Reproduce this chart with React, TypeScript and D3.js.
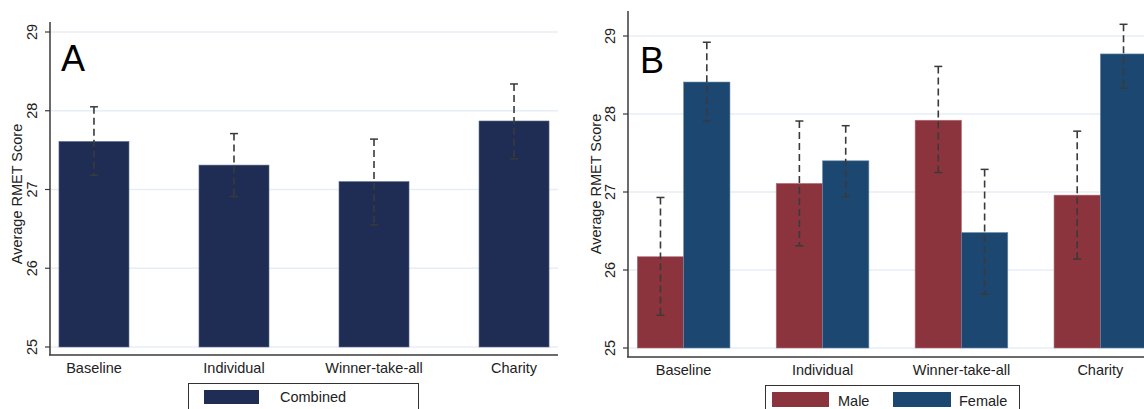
import React from "react";
import * as d3 from "d3";

const categories = ["Baseline", "Individual", "Winner-take-all", "Charity"];
const ticks = [25, 26, 27, 28, 29];

// Panel A: combined
const combinedMean = [27.61, 27.31, 27.1, 27.87];
const combinedLow = [27.18, 26.91, 26.55, 27.39];
const combinedHigh = [28.05, 27.71, 27.64, 28.34];

// Panel B: by gender
const seriesNames = ["Male", "Female"];
const maleMean = [26.17, 27.11, 27.92, 26.96];
const maleLow = [25.42, 26.31, 27.25, 26.14];
const maleHigh = [26.93, 27.91, 28.61, 27.78];
const femaleMean = [28.41, 27.4, 26.48, 28.77];
const femaleLow = [27.91, 26.94, 25.69, 28.33];
const femaleHigh = [28.92, 27.85, 27.29, 29.15];

const COL_COMB = "#1f2d55";
const COL_MALE = "#8c343e";
const COL_FEMALE = "#1c4770";
const GRID = "#e6eef4";
const AXIS = "#3a3a3a";
const ERR = "#3a3a3a";
const FONT = "'Liberation Sans', Arial, sans-serif";
const FS = 14.5;

function ErrorBar({ x, y1, y2 }: { x: number; y1: number; y2: number }) {
  return (
    <g>
      <line x1={x} x2={x} y1={y1} y2={y2} stroke={ERR} strokeWidth={1.6} strokeDasharray="7,4" />
      <line x1={x - 4} x2={x + 4} y1={y1} y2={y1} stroke={ERR} strokeWidth={1.5} />
      <line x1={x - 4} x2={x + 4} y1={y2} y2={y2} stroke={ERR} strokeWidth={1.5} />
    </g>
  );
}

function YAxis({ x, y, top, bottom, labelX, titleX, titleY }: any) {
  return (
    <g>
      <line x1={x} x2={x} y1={top} y2={bottom} stroke={AXIS} strokeWidth={1.5} />
      {ticks.map((t) => (
        <g key={t}>
          <line x1={x - 5} x2={x} y1={y(t)} y2={y(t)} stroke={AXIS} strokeWidth={1.2} />
          <text
            transform={`translate(${labelX},${y(t)}) rotate(-90)`}
            textAnchor="middle"
            dominantBaseline="central"
            fontSize={FS}
            fontFamily={FONT}
            fill="#222"
          >
            {t}
          </text>
        </g>
      ))}
      <text
        transform={`translate(${titleX},${titleY}) rotate(-90)`}
        textAnchor="middle"
        dominantBaseline="central"
        fontSize={FS}
        fontFamily={FONT}
        fill="#222"
      >
        Average RMET Score
      </text>
    </g>
  );
}

export default function App() {
  // Panel A scales
  const xA = d3.scaleBand<string>().domain(categories).range([50, 558]).paddingInner(0.5).paddingOuter(0.064);
  const yA = d3.scaleLinear().domain([25, 29]).range([347, 32]);

  // Panel B scales
  const xB = d3.scaleBand<string>().domain(categories).range([628, 1156]).paddingInner(0.333).paddingOuter(0.067);
  const xBInner = d3.scaleBand<string>().domain(seriesNames).range([0, xB.bandwidth()]);
  const yB = d3.scaleLinear().domain([25, 29]).range([348, 36]);

  const bSeries = [
    { name: "Male", mean: maleMean, low: maleLow, high: maleHigh, color: COL_MALE },
    { name: "Female", mean: femaleMean, low: femaleLow, high: femaleHigh, color: COL_FEMALE },
  ];

  return (
    <svg
      width={1144}
      height={409}
      style={{ position: "absolute", left: 0, top: 0, background: "#fff" }}
    >
      <rect width={1144} height={409} fill="#fff" />
      {/* ---------- Panel A ---------- */}
      <g>
        {ticks.map((t) => (
          <line key={t} x1={50} x2={558} y1={yA(t)} y2={yA(t)} stroke={GRID} strokeWidth={1.5} />
        ))}
        {categories.map((c, i) => (
          <rect
            key={c}
            x={xA(c)!}
            y={yA(combinedMean[i])}
            width={xA.bandwidth()}
            height={yA(25) - yA(combinedMean[i])}
            fill={COL_COMB}
            stroke="#5b6a8a"
            strokeWidth={0.6}
          />
        ))}
        {categories.map((c, i) => (
          <ErrorBar
            key={c}
            x={xA(c)! + xA.bandwidth() / 2}
            y1={yA(combinedHigh[i])}
            y2={yA(combinedLow[i])}
          />
        ))}
        <YAxis x={50} y={yA} top={22} bottom={355} labelX={32} titleX={17} titleY={194} />
        <line x1={49} x2={558} y1={355} y2={355} stroke={AXIS} strokeWidth={1.5} />
        {categories.map((c) => (
          <text
            key={c}
            x={xA(c)! + xA.bandwidth() / 2}
            y={373}
            textAnchor="middle"
            fontSize={FS}
            fontFamily={FONT}
            fill="#222"
          >
            {c}
          </text>
        ))}
        <text x={61} y={71} fontSize={36} fontFamily={FONT} fill="#000">
          A
        </text>
        {/* legend */}
        <rect x={188.5} y={383.5} width={230} height={40} fill="#fff" stroke="#333" strokeWidth={1} />
        <rect x={204} y={390} width={55} height={14} fill={COL_COMB} />
        <text x={280} y={402} fontSize={FS} fontFamily={FONT} fill="#222">
          Combined
        </text>
      </g>

      {/* ---------- Panel B ---------- */}
      <g>
        {ticks.map((t) => (
          <line key={t} x1={628} x2={1144} y1={yB(t)} y2={yB(t)} stroke={GRID} strokeWidth={1.5} />
        ))}
        {bSeries.map((s) =>
          categories.map((c, i) => (
            <rect
              key={s.name + c}
              x={xB(c)! + xBInner(s.name)!}
              y={yB(s.mean[i])}
              width={xBInner.bandwidth()}
              height={yB(25) - yB(s.mean[i])}
              fill={s.color}
              stroke={s.name === "Male" ? "#b0707a" : "#6a8aa8"}
              strokeWidth={0.6}
            />
          ))
        )}
        {bSeries.map((s) =>
          categories.map((c, i) => (
            <ErrorBar
              key={s.name + c}
              x={xB(c)! + xBInner(s.name)! + xBInner.bandwidth() / 2}
              y1={yB(s.high[i])}
              y2={yB(s.low[i])}
            />
          ))
        )}
        <YAxis x={628} y={yB} top={11} bottom={357} labelX={610} titleX={596} titleY={184} />
        <line x1={627} x2={1144} y1={357} y2={357} stroke={AXIS} strokeWidth={1.5} />
        {categories.map((c) => (
          <text
            key={c}
            x={xB(c)! + xB.bandwidth() / 2}
            y={375}
            textAnchor="middle"
            fontSize={FS}
            fontFamily={FONT}
            fill="#222"
          >
            {c}
          </text>
        ))}
        <text x={640} y={73} fontSize={36} fontFamily={FONT} fill="#000">
          B
        </text>
        {/* legend */}
        <rect x={765.5} y={385.5} width={254} height={40} fill="#fff" stroke="#333" strokeWidth={1} />
        <rect x={772} y={392} width={57} height={15} fill={COL_MALE} />
        <text x={838} y={406} fontSize={FS} fontFamily={FONT} fill="#222">
          Male
        </text>
        <rect x={893} y={392} width={58} height={15} fill={COL_FEMALE} />
        <text x={959} y={406} fontSize={FS} fontFamily={FONT} fill="#222">
          Female
        </text>
      </g>
    </svg>
  );
}
